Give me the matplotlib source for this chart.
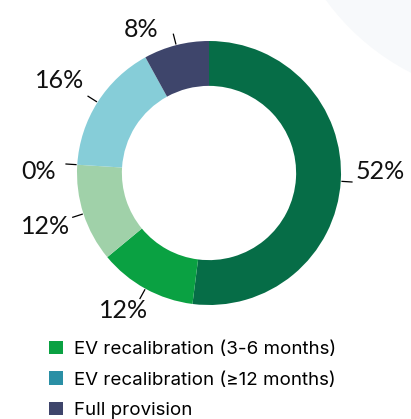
import numpy as np
import matplotlib
matplotlib.use("Agg")
import matplotlib.pyplot as plt
from matplotlib.patches import Patch, Circle

# ---- data (clockwise from 12 o'clock) ----
values = [52, 12, 12, 0, 16, 8]
pct_labels = ["52%", "12%", "12%", "0%", "16%", "8%"]
slice_colors = ["#066D47", "#0AA142", "#A0D1A9", "#2A8FA5", "#86CDD8", "#3E456B"]

legend_labels = ["EV recalibration (3-6 months)",
                 "EV recalibration (\u226512 months)",
                 "Full provision"]
legend_colors = ["#0AA142", "#2A8FA5", "#3E456B"]

# label layout nudges: (angle offset in degrees, radius of text centre)
label_layout = [(4, 1.30), (-3, 1.23), (0, 1.30), (3, 1.295), (0.7, 1.33), (11, 1.20)]

W, H = 411, 419
fig = plt.figure(figsize=(W / 100, H / 100), dpi=100)
fig.patch.set_facecolor("white")

# faint background shape top-right
bg = fig.add_axes([0, 0, 1, 1])
bg.set_xlim(0, W); bg.set_ylim(0, H); bg.axis("off")
bg.add_patch(Circle((520, 560), 240, facecolor="#F7F9FB",
                    edgecolor="none", zorder=0))

cx, cy, R = 209, 419 - 173, 132
ax = fig.add_axes([0, 0, 1, 1])
ax.patch.set_alpha(0)

wedges, _ = ax.pie(values, colors=slice_colors, startangle=90, counterclock=False,
                   radius=1.0, wedgeprops=dict(width=0.34, edgecolor="none"))
ax.set_aspect("auto")
ax.set_xlim(-cx / R, (W - cx) / R)
ax.set_ylim(-cy / R, (H - cy) / R)
ax.axis("off")

for w, lab, (dang, rt) in zip(wedges, pct_labels, label_layout):
    mid = (w.theta1 + w.theta2) / 2
    a = np.deg2rad(mid)
    c, s = np.cos(a), np.sin(a)
    ax.plot([1.005 * c, 1.09 * c], [1.005 * s, 1.09 * s], color="black", lw=0.9,
            solid_capstyle="butt")
    t = np.deg2rad(mid + dang)
    ax.text(rt * np.cos(t), rt * np.sin(t), lab, ha="center", va="center",
            fontsize=18, family="Lato", fontweight="normal", color="#111111")

handles = [Patch(facecolor=col, edgecolor="none") for col in legend_colors]
fig.legend(handles, legend_labels, loc="upper left",
           bbox_to_anchor=(49 / W, 1 - 341 / H), bbox_transform=fig.transFigure,
           frameon=False, prop=dict(family="Inter", size=13.5),
           handlelength=0.72, handleheight=0.72, handletextpad=0.62,
           labelspacing=0.70, borderpad=0, borderaxespad=0)

fig.savefig("out.png", dpi=100, facecolor="white")
